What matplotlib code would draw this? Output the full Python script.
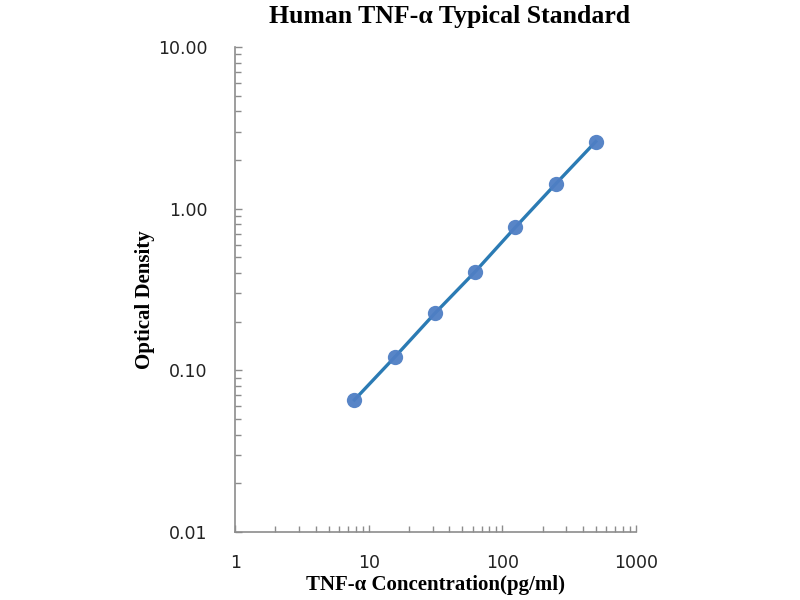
import numpy as np
import matplotlib.pyplot as plt
from matplotlib.ticker import FixedLocator, LogLocator, NullFormatter

# standard curve data
conc = [7.8, 15.6, 31.25, 62.5, 125, 250, 500]
od = [0.0656, 0.1205, 0.2254, 0.4074, 0.767, 1.42, 2.60]

x_ticks = [1, 10, 100, 1000]
x_labels = ['1', '10', '100', '1000']
y_ticks = [0.01, 0.1, 1, 10]
y_labels = ['0.01', '0.10', '1.00', '10.00']

fig = plt.figure(figsize=(8, 6), dpi=100)
ax = fig.add_axes([0.294, 0.1133, 0.501, 0.8084])

ax.plot(conc, od, color='#2b7bb4', lw=2.4, zorder=2)
ax.plot(conc, od, 'o', color='#4f7fc4', ms=11, alpha=0.95, mec='none', zorder=3)

ax.set_xscale('log')
ax.set_yscale('log')
ax.set_xlim(1, 1000)
ax.set_ylim(0.01, 10)

ax.xaxis.set_major_locator(FixedLocator(x_ticks))
ax.set_xticklabels(x_labels)
ax.yaxis.set_major_locator(FixedLocator(y_ticks))
ax.set_yticklabels(y_labels)
ax.xaxis.set_minor_locator(LogLocator(base=10, subs=np.arange(2, 10)))
ax.yaxis.set_minor_locator(LogLocator(base=10, subs=np.arange(2, 10)))
ax.xaxis.set_minor_formatter(NullFormatter())
ax.yaxis.set_minor_formatter(NullFormatter())

for s in ['top', 'right']:
    ax.spines[s].set_visible(False)
for s in ['left', 'bottom']:
    ax.spines[s].set_color('#8c8c8c')
    ax.spines[s].set_linewidth(1.2)

ax.tick_params(which='both', direction='in', color='#8c8c8c', width=1)
ax.tick_params(which='major', length=5, labelsize=12.5, labelcolor='#222222')
ax.tick_params(which='minor', length=4)
ax.tick_params(axis='x', which='major', pad=16)
ax.tick_params(axis='y', which='major', pad=20)

ax.set_title('Human TNF-\u03b1 Typical Standard', family='Liberation Serif',
             fontweight='bold', fontsize=18.5, pad=17, x=0.534)
ax.set_xlabel('TNF-\u03b1 Concentration(pg/ml)', family='Liberation Serif',
              fontweight='bold', fontsize=15, labelpad=2)
ax.set_ylabel('Optical Density', family='Liberation Serif',
              fontweight='bold', fontsize=15, labelpad=4)
ax.yaxis.set_label_coords(-0.2, 0.48)

fig.savefig('out.png', dpi=100)
